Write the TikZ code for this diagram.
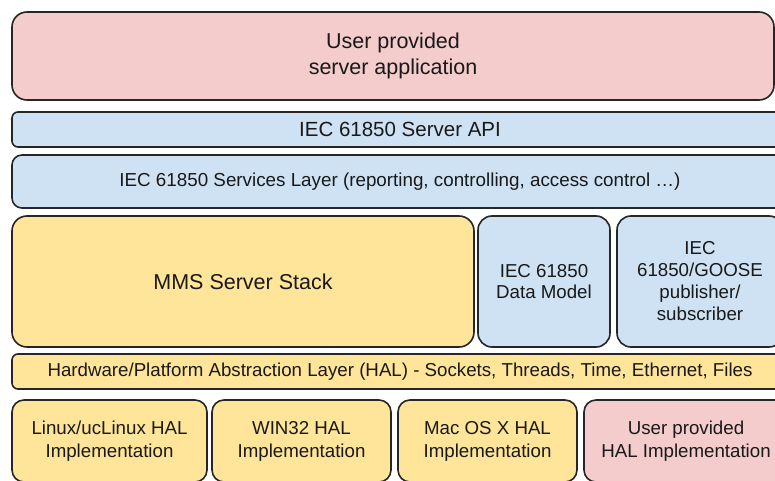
\documentclass[tikz,border=0pt]{standalone}
\usepackage{fontspec}
\setmainfont{Liberation Sans}
\definecolor{userpink}{HTML}{F4CCCC}
\definecolor{apiblue}{HTML}{CFE2F3}
\definecolor{stackyellow}{HTML}{FFE599}

\begin{document}
\begin{tikzpicture}[x=1pt, y=-1pt,
    layerbox/.style={draw=black!85, line width=1.6pt, rounded corners=#1, inner sep=0pt, align=center, text=black!90, font=\fontsize{18.7}{22}\selectfont},
    bigtext/.style={font=\fontsize{21.5}{26}\selectfont}]
  \useasboundingbox (0,0) rectangle (775,481);
  \clip (0,0) rectangle (775,481);
  % application and API layers
  \node [layerbox=15, bigtext, fill=userpink, minimum width=762, minimum height=88] (app) at (393,56) {User provided\\server application};
  \node [layerbox=6, fill=apiblue, minimum width=776, minimum height=35, font=\fontsize{20.5}{24}\selectfont] (api) at (400,129.5) {IEC 61850 Server API};
  \node [layerbox=10, fill=apiblue, minimum width=776, minimum height=53, font=\fontsize{18.8}{22}\selectfont] (services) at (400,181.5) {IEC 61850 Services Layer (reporting, controlling, access control \dots)};
  % stack, data model, goose
  \node [layerbox=15, bigtext, fill=stackyellow, minimum width=462, minimum height=131] (mms) at (243,281.5) {MMS Server Stack};
  \node [layerbox=14, fill=apiblue, minimum width=132, minimum height=131, font=\fontsize{18.7}{21.5}\selectfont] (model) at (544,281.5) {IEC 61850\\Data Model};
  \node [layerbox=14, fill=apiblue, minimum width=166, minimum height=131, font=\fontsize{18.7}{22}\selectfont] (goose) at (700,281.5) {IEC\\61850/GOOSE\\publisher/\\subscriber};
  % hardware abstraction
  \node [layerbox=6, fill=stackyellow, minimum width=776, minimum height=35] (hal) at (400,371.5) {Hardware/Platform Abstraction Layer (HAL) - Sockets, Threads, Time, Ethernet, Files};
  \node [layerbox=12, fill=stackyellow, minimum width=195, minimum height=82, font=\fontsize{18.7}{23}\selectfont] (linux) at (109.5,441) {Linux/ucLinux HAL\\Implementation};
  \node [layerbox=12, fill=stackyellow, minimum width=179, minimum height=82, font=\fontsize{18.7}{23}\selectfont] (win) at (301.5,441) {WIN32 HAL\\Implementation};
  \node [layerbox=12, fill=stackyellow, minimum width=179, minimum height=82, font=\fontsize{18.7}{23}\selectfont] (mac) at (487.5,441) {Mac OS X HAL\\Implementation};
  \node [layerbox=12, fill=userpink, minimum width=204, minimum height=82, font=\fontsize{18.7}{23}\selectfont] (userhal) at (686,441) {User provided\\HAL Implementation};
\end{tikzpicture}
\end{document}
